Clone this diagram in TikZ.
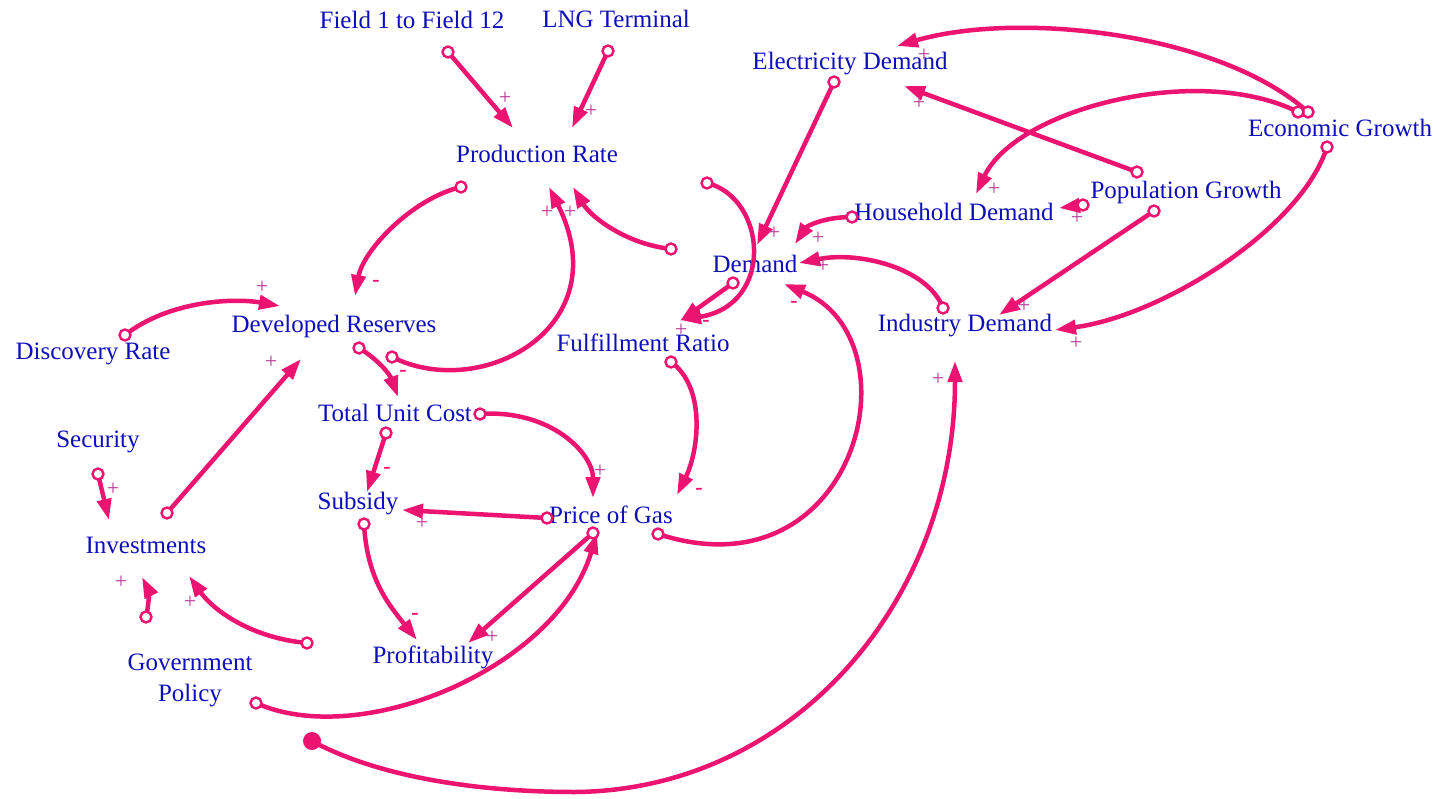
\documentclass[tikz,border=0pt]{standalone}
\usepackage{fontspec}
\setmainfont{Liberation Serif}
\usetikzlibrary{arrows.meta}
\definecolor{pk}{RGB}{236,20,112}
\definecolor{tx}{RGB}{15,15,185}
\definecolor{pl}{RGB}{185,60,150}
\begin{document}
\begin{tikzpicture}[x=1pt,y=-1pt,
  var/.style={text=tx,font=\fontsize{25}{31}\selectfont,inner sep=0pt},
  lnk/.style={draw=pk,line width=4.5pt,-{Triangle[length=21pt,width=14pt]}},
  tl/.style={circle,draw=pk,fill=white,line width=2.4pt,minimum size=11pt,inner sep=0pt},
  dotc/.style={circle,fill=pk,minimum size=18pt,inner sep=0pt},
  plussign/.style={text=pl,font=\fontsize{22}{22}\selectfont,inner sep=0pt},
  minussign/.style={text=pk,font=\bfseries\fontsize{22}{22}\selectfont,inner sep=0pt}]
\fill[white] (0,0) rectangle (1447,799);
\useasboundingbox (0,0) rectangle (1447,799);

% variables
\node[var] (f12) at (412,20) {Field 1 to Field 12};
\node[var] (lng) at (616,19) {LNG Terminal};
\node[var] (pr)  at (537,154) {Production Rate};
\node[var] (ed)  at (850,64) {Electricity Demand};
\node[var] (eg)  at (1340,128) {Economic Growth};
\node[var] (pg)  at (1186,192) {Population Growth};
\node[var] (hd)  at (954,212) {Household Demand};
\node[var] (dm)  at (755,264) {Demand};
\node[var] (id)  at (965,326) {Industry Demand};
\node[var] (dr)  at (93,354) {Discovery Rate};
\node[var] (dev) at (334,326) {Developed Reserves};
\node[var] (fr)  at (643,343) {Fulfillment Ratio};
\node[var] (tuc) at (395,413) {Total Unit Cost};
\node[var] (sec) at (98,442) {Security};
\node[var] (sub) at (358,504) {Subsidy};
\node[var] (pog) at (611,515) {Price of Gas};
\node[var] (inv) at (146,545) {Investments};
\node[var] (prf) at (433,657) {Profitability};
\node[var,align=center] (gov) at (190,680) {Government\\Policy};

% connector ends
\coordinate (t1) at (448,52);   \coordinate (h1) at (513,128);
\coordinate (t2) at (608,51);   \coordinate (h2) at (572,128);
\coordinate (t3) at (461,187);  \coordinate (h3) at (355,296);
\coordinate (t4) at (392,357);  \coordinate (h4) at (549,187);
\coordinate (t5) at (671,249);  \coordinate (h5) at (573,187);
\coordinate (t6) at (707,183);  \coordinate (h6) at (680,320);
\coordinate (t7) at (834,82);   \coordinate (h7) at (757,245);
\coordinate (t8) at (852,217);  \coordinate (h8) at (795,244);
\coordinate (t9) at (943,308);  \coordinate (h9) at (799,263);
\coordinate (t10) at (658,534); \coordinate (h10) at (784,284);
\coordinate (t11) at (733,283); \coordinate (h11) at (680,321);
\coordinate (t12) at (671,362); \coordinate (h12) at (677,495);
\coordinate (t13) at (1308,112);\coordinate (h13) at (897,46);
\coordinate (t14) at (1298,112);\coordinate (h14) at (976,194);
\coordinate (t15) at (1137,172);\coordinate (h15) at (904,86);
\coordinate (t16) at (1083,205);\coordinate (h16) at (1059,208);
\coordinate (t17) at (1154,211);\coordinate (h17) at (999,315);
\coordinate (t18) at (1327,147);\coordinate (h18) at (1055,330);
\coordinate (t19) at (125,335); \coordinate (h19) at (280,306);
\coordinate (t20) at (167,513); \coordinate (h20) at (301,359);
\coordinate (t21) at (359,348); \coordinate (h21) at (398,397);
\coordinate (t22) at (386,433); \coordinate (h22) at (367,492);
\coordinate (t23) at (480,414); \coordinate (h23) at (593,498);
\coordinate (t24) at (547,518); \coordinate (h24) at (402,510);
\coordinate (t25) at (364,524); \coordinate (h25) at (417,640);
\coordinate (t26) at (593,533); \coordinate (h26) at (468,643);
\coordinate (t27) at (256,703); \coordinate (h27) at (597,533);
\coordinate (t28) at (98,474);  \coordinate (h28) at (109,520);
\coordinate (t29) at (307,643); \coordinate (h29) at (189,576);
\coordinate (t30) at (146,617); \coordinate (h30) at (142,577);
\coordinate (t31) at (312,741); \coordinate (m31) at (575,792); \coordinate (h31) at (955,361);

% connectors
\draw[lnk] (t1) -- (h1);
\draw[lnk] (t2) -- (h2);
\draw[lnk] (t3) .. controls +(-50,12) and +(8,-45) .. (h3);
\draw[lnk] (t4) .. controls +(90,45) and +(70,140) .. (h4);
\draw[lnk] (t5) .. controls +(-45,-5) and +(18,30) .. (h5);
\draw[lnk] (t6) .. controls +(60,15) and +(95,-15) .. (h6);
\draw[lnk] (t7) -- (h7);
\draw[lnk] (t8) .. controls +(-28,0) and +(12,-18) .. (h8);
\draw[lnk] (t9) .. controls +(-15,-40) and +(60,-12) .. (h9);
\draw[lnk] (t10) .. controls +(200,65) and +(135,55) .. (h10);
\draw[lnk] (t11) -- (h11);
\draw[lnk] (t12) .. controls +(35,25) and +(22,-45) .. (h12);
\draw[lnk] (t13) .. controls +(-90,-80) and +(120,-35) .. (h13);
\draw[lnk] (t14) .. controls +(-100,-50) and +(40,-85) .. (h14);
\draw[lnk] (t15) -- (h15);
\draw[lnk] (t16) -- (h16);
\draw[lnk] (t17) -- (h17);
\draw[lnk] (t18) .. controls +(-25,80) and +(110,-15) .. (h18);
\draw[lnk] (t19) .. controls +(45,-35) and +(-45,-8) .. (h19);
\draw[lnk] (t20) -- (h20);
\draw[lnk] (t21) .. controls +(20,12) and +(-8,-22) .. (h21);
\draw[lnk] (t22) -- (h22);
\draw[lnk] (t23) .. controls +(70,-5) and +(0,-45) .. (h23);
\draw[lnk] (t24) -- (h24);
\draw[lnk] (t25) .. controls +(3,55) and +(-28,-35) .. (h25);
\draw[lnk] (t26) -- (h26);
\draw[lnk] (t27) .. controls +(104,47) and +(-41,136) .. (h27);
\draw[lnk] (t28) -- (h28);
\draw[lnk] (t29) .. controls +(-55,-5) and +(25,35) .. (h29);
\draw[lnk] (t30) .. controls +(4,-18) and +(6,12) .. (h30);
\draw[lnk] (t31) .. controls +(70,38) and +(-90,0) .. (m31) .. controls +(220,-2) and +(0,238) .. (h31);

% tails
\foreach \t in {t1,t2,t3,t4,t5,t6,t7,t8,t9,t10,t11,t12,t13,t14,t15,t16,t17,t18,t19,t20,t21,t22,t23,t24,t25,t26,t27,t28,t29,t30}
  \node[tl] at (\t) {};
\node[dotc] (d31) at (t31) {};

% polarities
\node[plussign] (p1) at (505,98) {+};
\node[plussign] (p2) at (591,111) {+};
\node[minussign] (n3) at (376,283) {-};
\node[plussign] (p4) at (547,212) {+};
\node[plussign] (p5) at (570,212) {+};
\node[plussign] (p6) at (681,330) {+};
\node[plussign] (p7) at (774,233) {+};
\node[plussign] (p8) at (818,238) {+};
\node[plussign] (p9) at (823,266) {+};
\node[minussign] (n10) at (794,304) {-};
\node[minussign] (n11) at (706,323) {-};
\node[minussign] (n12) at (699,491) {-};
\node[plussign] (p13) at (924,55) {+};
\node[plussign] (p14) at (994,189) {+};
\node[plussign] (p15) at (919,103) {+};
\node[plussign] (p16) at (1077,218) {+};
\node[plussign] (p17) at (1024,306) {+};
\node[plussign] (p18) at (1076,343) {+};
\node[plussign] (p19) at (262,287) {+};
\node[plussign] (p20) at (271,362) {+};
\node[minussign] (n21) at (403,373) {-};
\node[minussign] (n22) at (387,470) {-};
\node[plussign] (p23) at (600,471) {+};
\node[plussign] (p24) at (422,523) {+};
\node[minussign] (n25) at (415,616) {-};
\node[plussign] (p26) at (492,637) {+};
\node[plussign] (p28) at (113,489) {+};
\node[plussign] (p29) at (190,602) {+};
\node[plussign] (p30) at (121,582) {+};
\node[plussign] (p31) at (938,379) {+};
\end{tikzpicture}
\end{document}
